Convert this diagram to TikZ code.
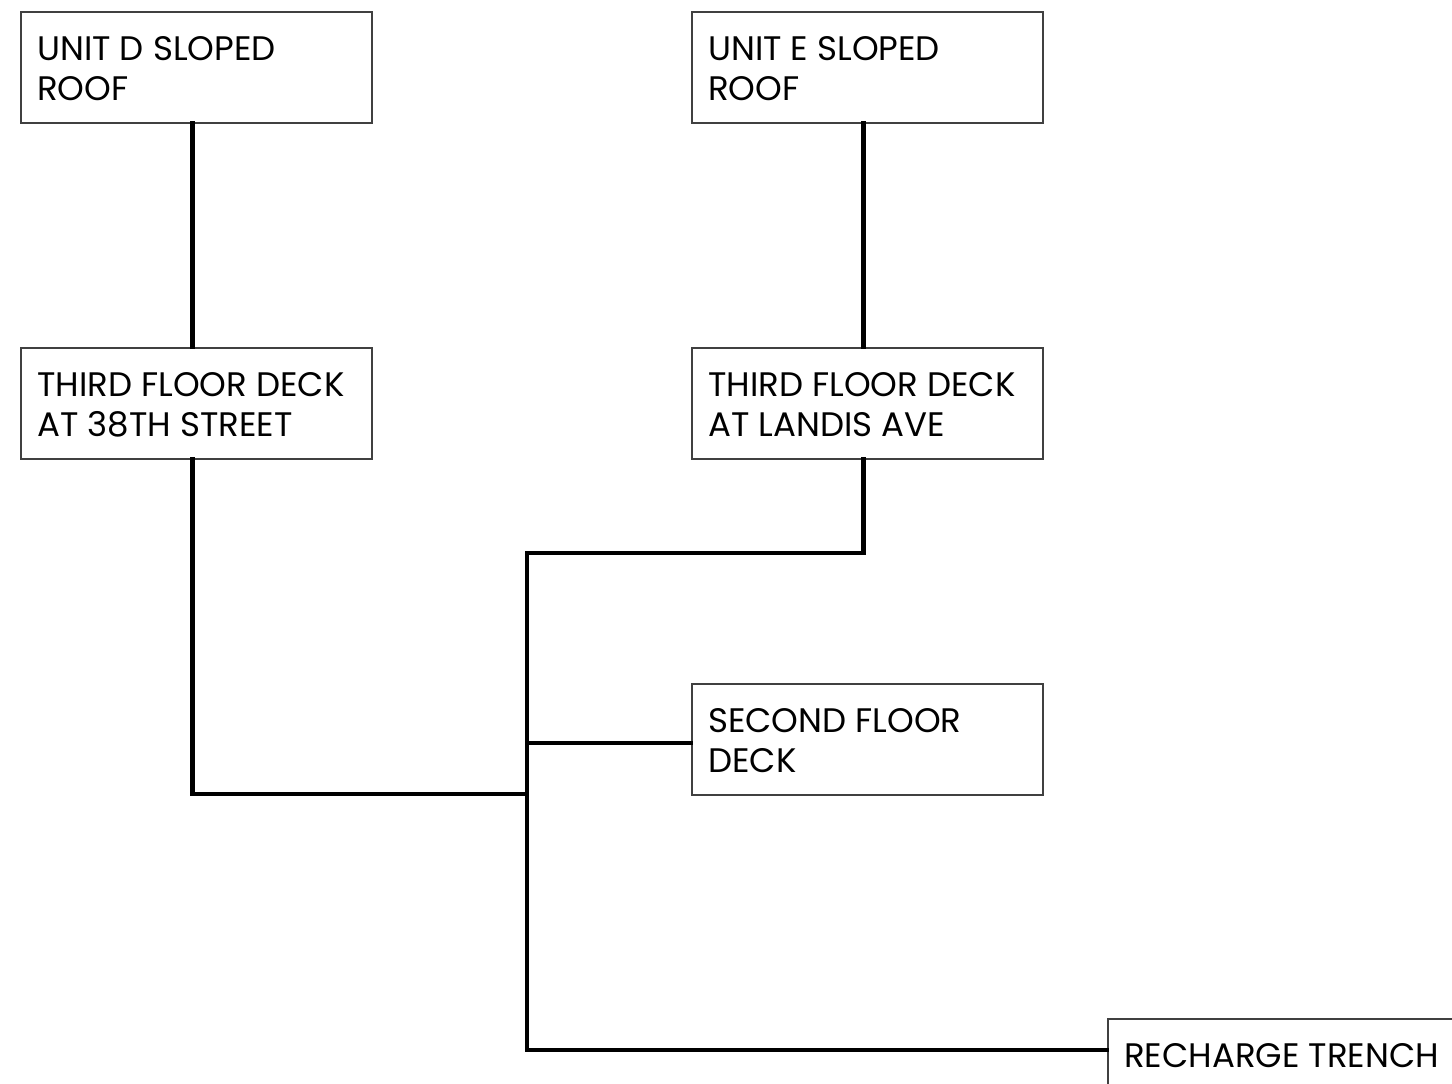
\documentclass[tikz,border=0pt]{standalone}
\usepackage{fontspec}
\setmainfont{Poppins}
\begin{document}
\begin{tikzpicture}[x=0.75pt,y=-0.75pt,
 box/.style={draw=black!75, line width=1.2pt, minimum width=263.25pt, minimum height=83.25pt, anchor=north west, inner sep=0pt},
 lbl/.style={anchor=base west, font=\fontsize{25.5}{30}\selectfont, align=left, inner sep=0pt},
 wire/.style={line width=3.3pt, line cap=rect}]
\useasboundingbox (0,0) rectangle (1452,1083);
\clip (0,0) rectangle (1452,1083);
\node[box] (dr) at (20,11) {};
\node[box] (er) at (691,11) {};
\node[box] (ts) at (20,347) {};
\node[box] (tl) at (691,347) {};
\node[box] (sf) at (691,683) {};
\node[box, minimum width=290pt] (rt) at (1107,1018) {};
\node[lbl] (drt) at (37,100) {UNIT D SLOPED\\ROOF};
\node[lbl] (ert) at (708,100) {UNIT E SLOPED\\ROOF};
\node[lbl] (tst) at (37,436) {THIRD FLOOR DECK\\AT 38TH STREET};
\node[lbl] (tlt) at (708,436) {THIRD FLOOR DECK\\AT LANDIS AVE};
\node[lbl] (sft) at (708,772) {SECOND FLOOR\\DECK};
\node[lbl] (rtt) at (1124,1067) {RECHARGE TRENCH};
\coordinate (j1) at (527,553);
\coordinate (j2) at (527,794);
\coordinate (j3) at (527,743);
\coordinate (j4) at (527,1050);
\draw[wire] ([xshift=-3pt]dr.south) -- ([xshift=-3pt]ts.north);
\draw[wire] ([xshift=-3pt]er.south) -- ([xshift=-3pt]tl.north);
\draw[wire] ([xshift=-3pt]ts.south) |- (j2);
\draw[wire] ([xshift=-3pt]tl.south) |- (j1) -- (j4) -- (j4 -| rt.west);
\draw[wire] (j3) -- (j3 -| sf.west);
\end{tikzpicture}
\end{document}
